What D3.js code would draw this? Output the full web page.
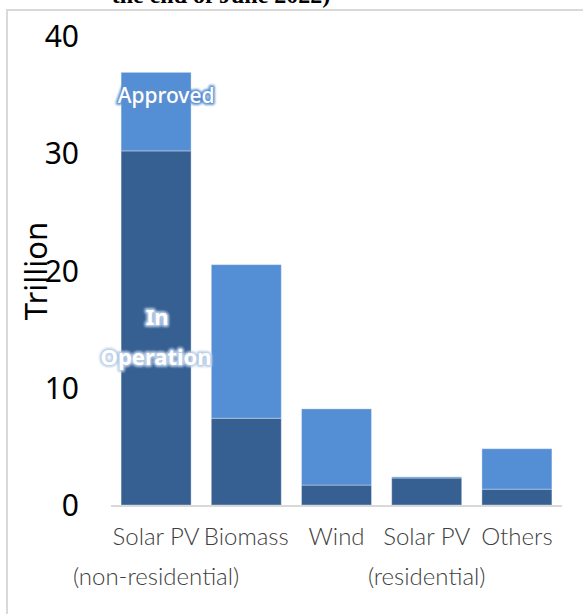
<!DOCTYPE html>
<html>
<head>
<meta charset="utf-8">
<script src="https://cdn.jsdelivr.net/npm/d3@7"></script>
<style>
  html, body { margin: 0; padding: 0; background: #fff; }
  svg { display: block; }
</style>
</head>
<body>
<svg id="chart" width="583" height="614"></svg>
<script>
const categories = ["Solar PV", "Biomass", "Wind", "Solar PV", "Others"];
const categorySubLabels = ["(non-residential)", "", "", "(residential)", ""];
const inOperation = [30.2, 7.4, 1.7, 2.3, 1.35];
const approvedExtra = [6.7, 13.1, 6.5, 0.1, 3.45];
const yTicks = [0, 10, 20, 30, 40];
const yTitle = "Trillion";
const titleText = "the end of June 2022)";

const svg = d3.select("#chart");
const W = 583, H = 614;
const margin = { left: 111, right: 21, top: 36, bottom: 109 };

const x = d3.scaleBand()
  .domain(d3.range(categories.length))
  .range([margin.left, W - margin.right])
  .paddingInner(0.224)
  .paddingOuter(0.112);

const y = d3.scaleLinear().domain([0, 40]).range([H - margin.bottom, margin.top]);

const defs = svg.append("defs");
const f = defs.append("filter").attr("id", "glow").attr("x", "-20%").attr("y", "-40%").attr("width", "140%").attr("height", "180%");
f.append("feGaussianBlur").attr("stdDeviation", 1.2);

// title (partly outside the top edge, as in the reference)
svg.append("text")
  .attr("x", 221).attr("y", 3)
  .attr("text-anchor", "middle")
  .attr("font-family", "Liberation Serif, serif")
  .attr("font-weight", "bold")
  .attr("font-size", 24)
  .attr("fill", "#000")
  .text(titleText);

// border
svg.append("line").attr("x1", 6).attr("x2", W).attr("y1", 10).attr("y2", 10)
  .attr("stroke", "#d9d9d9").attr("stroke-width", 2);
svg.append("line").attr("x1", 7).attr("x2", 7).attr("y1", 9).attr("y2", H)
  .attr("stroke", "#d9d9d9").attr("stroke-width", 2);

const stacked = d3.stack().keys(["op", "ap"])(
  categories.map((c, i) => ({ op: inOperation[i], ap: approvedExtra[i] }))
);
const colors = { op: "#366092", ap: "#548ED4" };

stacked.forEach(layer => {
  svg.append("g").selectAll("rect")
    .data(layer)
    .join("rect")
    .attr("x", (d, i) => x(i))
    .attr("width", x.bandwidth())
    .attr("y", d => y(d[1]))
    .attr("height", d => y(d[0]) - y(d[1]))
    .attr("fill", colors[layer.key])
    .attr("stroke", "rgba(255,255,255,0.35)")
    .attr("stroke-width", 1);
});

svg.append("line")
  .attr("x1", margin.left).attr("x2", W - margin.right)
  .attr("y1", y(0) + 1).attr("y2", y(0) + 1)
  .attr("stroke", "#d9d9d9").attr("stroke-width", 2);

const yAxis = d3.axisLeft(y).tickValues(yTicks).tickSize(0).tickPadding(0);
const gy = svg.append("g").attr("transform", "translate(79,0)").call(yAxis);
gy.select(".domain").remove();
gy.selectAll("text")
  .attr("font-family", "Noto Sans, sans-serif")
  .attr("font-size", 30)
  .attr("fill", "#000")
  .attr("dy", "0.35em");

svg.append("text")
  .attr("transform", "translate(47,271) rotate(-90)")
  .attr("text-anchor", "middle")
  .attr("font-family", "Noto Sans, sans-serif")
  .attr("font-size", 31)
  .attr("fill", "#000")
  .text(yTitle);

const gx = svg.append("g");
gx.selectAll("text.cat")
  .data(categories)
  .join("text")
  .attr("class", "cat")
  .attr("x", (d, i) => x(i) + x.bandwidth() / 2)
  .attr("y", 545)
  .attr("text-anchor", "middle")
  .attr("font-family", "Lato, Noto Sans, sans-serif")
  .attr("font-weight", 300)
  .attr("font-size", 24)
  .attr("fill", "#404040")
  .text(d => d);
gx.selectAll("text.sub")
  .data(categorySubLabels)
  .join("text")
  .attr("class", "sub")
  .attr("x", (d, i) => x(i) + x.bandwidth() / 2)
  .attr("y", 585)
  .attr("text-anchor", "middle")
  .attr("font-family", "Lato, Noto Sans, sans-serif")
  .attr("font-weight", 300)
  .attr("font-size", 24)
  .attr("fill", "#404040")
  .text(d => d);

function glowLabel(txt, cx, cy, size, weight, glowColor) {
  svg.append("text")
    .attr("x", cx).attr("y", cy)
    .attr("text-anchor", "middle").attr("dy", "0.35em")
    .attr("font-family", "Noto Sans, sans-serif")
    .attr("font-size", size).attr("font-weight", weight)
    .attr("fill", glowColor).attr("stroke", glowColor).attr("stroke-width", 4)
    .attr("stroke-linejoin", "round")
    .attr("filter", "url(#glow)")
    .text(txt);
  svg.append("text")
    .attr("x", cx).attr("y", cy)
    .attr("text-anchor", "middle").attr("dy", "0.35em")
    .attr("font-family", "Noto Sans, sans-serif")
    .attr("font-size", size).attr("font-weight", weight)
    .attr("fill", "#fff")
    .text(txt);
}
const c0 = x(0) + x.bandwidth() / 2;
glowLabel("Approved", c0 + 10, 96, 21, 500, "#5b8fd0");
glowLabel("In", c0 + 1, 317, 22, "bold", "#b8cce6");
glowLabel("Operation", c0, 357, 22, "bold", "#b8cce6");
</script>
</body>
</html>
